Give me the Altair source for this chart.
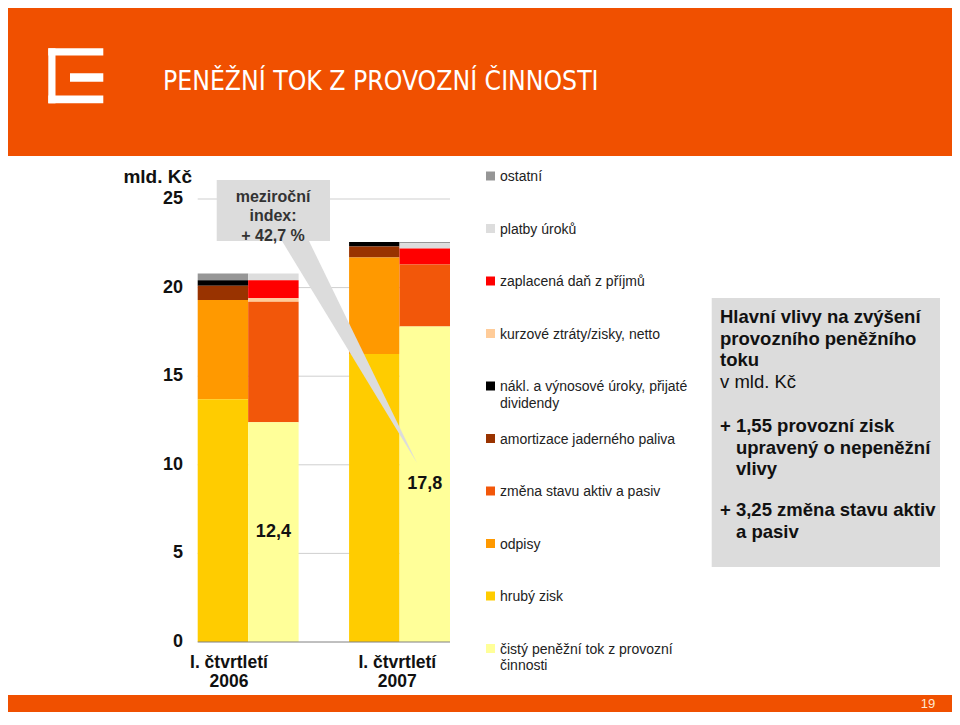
import altair as alt
import pandas as pd

# ---------------- data ----------------
components = [
    "ostatní",
    "platby úroků",
    "zaplacená daň z příjmů",
    "kurzové ztráty/zisky, netto",
    "nákl. a výnosové úroky, přijaté dividendy",
    "amortizace jaderného paliva",
    "změna stavu aktiv a pasiv",
    "odpisy",
    "hrubý zisk",
    "čistý peněžní tok z provozní činnosti",
]
legend_labels = [
    "ostatní",
    "platby úroků",
    "zaplacená daň z příjmů",
    "kurzové ztráty/zisky, netto",
    "nákl. a výnosové úroky, přijaté\ndividendy",
    "amortizace jaderného paliva",
    "změna stavu aktiv a pasiv",
    "odpisy",
    "hrubý zisk",
    "čistý peněžní tok z provozní\nčinnosti",
]
slots = ["2006 zdroje", "2006 užití", "mezera", "2007 zdroje", "2007 užití"]
values_2006_zdroje = [0.38, 0, 0, 0, 0.32, 0.80, 0, 5.60, 13.70, 0]
values_2006_uziti = [0, 0.38, 1.02, 0.20, 0, 0, 6.80, 0, 0, 12.40]
values_2007_zdroje = [0, 0, 0, 0, 0.25, 0.62, 0, 5.45, 16.25, 0]
values_2007_uziti = [0.07, 0.30, 0.90, 0, 0, 0, 3.50, 0, 0, 17.80]

tick_values = [0, 5, 10, 15, 20, 25]
tick_labels = ["0", "5", "10", "15", "20", "25"]
period_labels = ["I. čtvrtletí\n2006", "I. čtvrtletí\n2007"]
unit_label = "mld. Kč"
title_text = "PENĚŽNÍ TOK Z PROVOZNÍ ČINNOSTI"
callout_text = "meziroční\nindex:\n+ 42,7 %"
box_title = "Hlavní vlivy na zvýšení\nprovozního peněžního\ntoku"
box_unit = "v mld. Kč"
box_item1_head = "+ 1,55 provozní zisk"
box_item1_rest = "upravený o nepeněžní\nvlivy"
box_item2_head = "+ 3,25 změna stavu aktiv"
box_item2_rest = "a pasiv"
page_number = "19"

# ---------------- styles / layout ----------------
palette = ["#969696", "#DDDDDD", "#FF0000", "#FFCC99", "#000000",
           "#993300", "#F2570A", "#FF9900", "#FFCC00", "#FFFF99"]
ORANGE = "#F05000"
BOXGRAY = "#DCDCDC"
FONT = "Liberation Sans"
W, H = 944, 704

x_scale = alt.Scale(domain=slots, range=[189.7, 442], paddingInner=0, paddingOuter=0)
y_scale = alt.Scale(domain=[0, 25], range=[634, 191], nice=False, zero=True)
legend_scale = alt.Scale(domain=[0, len(components) - 1], range=[168, 640.5], nice=False, zero=False)
color_scale = alt.Scale(domain=components, range=palette)

rows = []
for slot, vals in zip([slots[0], slots[1], slots[3], slots[4]],
                      [values_2006_zdroje, values_2006_uziti, values_2007_zdroje, values_2007_uziti]):
    for i, (c, v) in enumerate(zip(components, vals)):
        if v > 0:
            rows.append({"slot": slot, "component": c, "order": i, "value": v})
bars_df = pd.DataFrame(rows)

# decorative shapes (pixel geometry)
deco = pd.DataFrame([
    dict(x=0, x2=W, y=0, y2=148, fill=ORANGE),          # header band
    dict(x=40.3, x2=95.3, y=40.3, y2=47.5, fill="white"),   # logo top
    dict(x=40.3, x2=47.5, y=40.3, y2=95.3, fill="white"),   # logo left
    dict(x=40.3, x2=95.3, y=87.5, y2=95.3, fill="white"),   # logo bottom
    dict(x=62.0, x2=95.3, y=65.3, y2=73.7, fill="white"),   # logo dash
    dict(x=0, x2=W, y=687, y2=H, fill=ORANGE),          # bottom band
    dict(x=703.7, x2=932, y=290, y2=559, fill=BOXGRAY),  # right info box
])
deco_layer = alt.Chart(deco).mark_rect().encode(
    x=alt.X("x:Q", scale=None, axis=None), x2="x2:Q",
    y=alt.Y("y:Q", scale=None, axis=None), y2="y2:Q",
    color=alt.Color("fill:N", scale=None, legend=None),
)

grid_df = pd.DataFrame({"v": tick_values[1:]})
grid = alt.Chart(grid_df).mark_rule(color="#CFCFCF", strokeWidth=1).encode(
    y=alt.Y("v:Q", scale=y_scale, axis=None),
    x=alt.value(189.7), x2=alt.value(442),
)
base_df = pd.DataFrame({"v": tick_values[:1]})
baseline = alt.Chart(base_df).mark_rule(color="#808080", strokeWidth=1).encode(
    y=alt.Y("v:Q", scale=y_scale, axis=None),
    x=alt.value(189.7), x2=alt.value(442),
)

bars = alt.Chart(bars_df).mark_bar(strokeWidth=0).encode(
    x=alt.X("slot:N", scale=x_scale, axis=None),
    y=alt.Y("value:Q", stack="zero", scale=y_scale, axis=None),
    color=alt.Color("component:N", scale=color_scale, legend=None),
    order=alt.Order("order:Q", sort="descending"),
)

vals_df = pd.DataFrame({"slot": [slots[1], slots[4]],
                        "v": [values_2006_uziti[-1], values_2007_uziti[-1]]})
value_labels = alt.Chart(vals_df).transform_calculate(
    mid="datum.v / 2", lab="replace(format(datum.v, '.1f'), '.', ',')"
).mark_text(font=FONT, fontSize=18, fontWeight="bold", baseline="middle", color="#111111").encode(
    x=alt.X("slot:N", scale=x_scale, axis=None),
    y=alt.Y("mid:Q", scale=y_scale, axis=None),
    text="lab:N",
)

ticks_df = pd.DataFrame({"v": tick_values, "lab": tick_labels})
tick_text = alt.Chart(ticks_df).mark_text(
    font=FONT, fontSize=18, fontWeight="bold", align="right", baseline="middle", color="#111111"
).encode(y=alt.Y("v:Q", scale=y_scale, axis=None), x=alt.value(175), text="lab:N")

per_a = alt.Chart(pd.DataFrame({"slot": [slots[0]], "t": [period_labels[0]]})).mark_text(
    font=FONT, fontSize=17.5, fontWeight="bold", align="center", baseline="alphabetic",
    lineBreak="\n", lineHeight=19, dx=6, color="#111111"
).encode(x=alt.X("slot:N", scale=x_scale, axis=None), y=alt.value(660), text="t:N")
per_b = alt.Chart(pd.DataFrame({"slot": [slots[3]], "t": [period_labels[1]]})).mark_text(
    font=FONT, fontSize=17.5, fontWeight="bold", align="center", baseline="alphabetic",
    lineBreak="\n", lineHeight=19, dx=23, color="#111111"
).encode(x=alt.X("slot:N", scale=x_scale, axis=None), y=alt.value(660), text="t:N")

leg_df = pd.DataFrame({"idx": list(range(len(components))), "component": components,
                       "lab": legend_labels})
leg_sw = alt.Chart(leg_df).mark_square(size=81, opacity=1).encode(
    y=alt.Y("idx:Q", scale=legend_scale, axis=None), x=alt.value(482.5),
    color=alt.Color("component:N", scale=color_scale, legend=None),
)
leg_tx = alt.Chart(leg_df).mark_text(
    font=FONT, fontSize=14, align="left", baseline="alphabetic", dy=5,
    lineBreak="\n", lineHeight=16.5, color="#222222"
).encode(y=alt.Y("idx:Q", scale=legend_scale, axis=None), x=alt.value(492), text="lab:N")

wedge_df = pd.DataFrame({"py": [233, 455], "px": [274, 409], "px2": [301, 409]})
wedge = alt.Chart(wedge_df).mark_area(orient="horizontal", color=BOXGRAY, opacity=1).encode(
    y=alt.Y("py:Q", scale=None, axis=None),
    x=alt.X("px:Q", scale=None, axis=None), x2="px2:Q",
)
callout_box = alt.Chart(pd.DataFrame({"a": [1]})).mark_rect(color=BOXGRAY).encode(
    x=alt.value(208.7), x2=alt.value(322), y=alt.value(172), y2=alt.value(233)
)


def txt(text, x, y, size, weight="normal", align="left", color="#111111", lh=None, font=FONT):
    props = dict(font=font, fontSize=size, fontWeight=weight, align=align,
                 baseline="alphabetic", color=color, lineBreak="\n")
    if lh is not None:
        props["lineHeight"] = lh
    return alt.Chart(pd.DataFrame({"t": [text]})).mark_text(**props).encode(
        x=alt.value(x), y=alt.value(y), text="t:N")


layers = [
    deco_layer,
    grid,
    bars,
    baseline,
    wedge,
    callout_box,
    value_labels,
    tick_text,
    per_a,
    per_b,
    leg_sw,
    leg_tx,
    txt(unit_label, 184, 175, 19, "bold", "right"),
    txt(callout_text, 265, 193.7, 16, "bold", "center", "#333333", 19.5),
    txt(title_text, 155, 82, 26.3, "normal", "left", "white",
        font="Liberation Sans Narrow, DejaVu Sans Condensed, sans-serif"),
    txt(box_title, 712, 315, 18.5, "bold", lh=21.5),
    txt(box_unit, 712, 380, 18.5, "normal"),
    txt(box_item1_head, 712, 424, 18.5, "bold"),
    txt(box_item1_rest, 728, 445.5, 18.5, "bold", lh=21.5),
    txt(box_item2_head, 712, 508, 18.5, "bold"),
    txt(box_item2_rest, 728, 529.5, 18.5, "bold"),
    txt(page_number, 920, 700, 13, "normal", "center", "#FFE8D0"),
]

chart = alt.layer(*layers).properties(
    width=W, height=H, padding=0,
    autosize=alt.AutoSizeParams(type="fit", contains="padding"),
).resolve_scale(x="independent", y="independent", color="independent").configure_view(stroke=None)

chart.save("out.html", embed_options={"renderer": "svg", "actions": False})
